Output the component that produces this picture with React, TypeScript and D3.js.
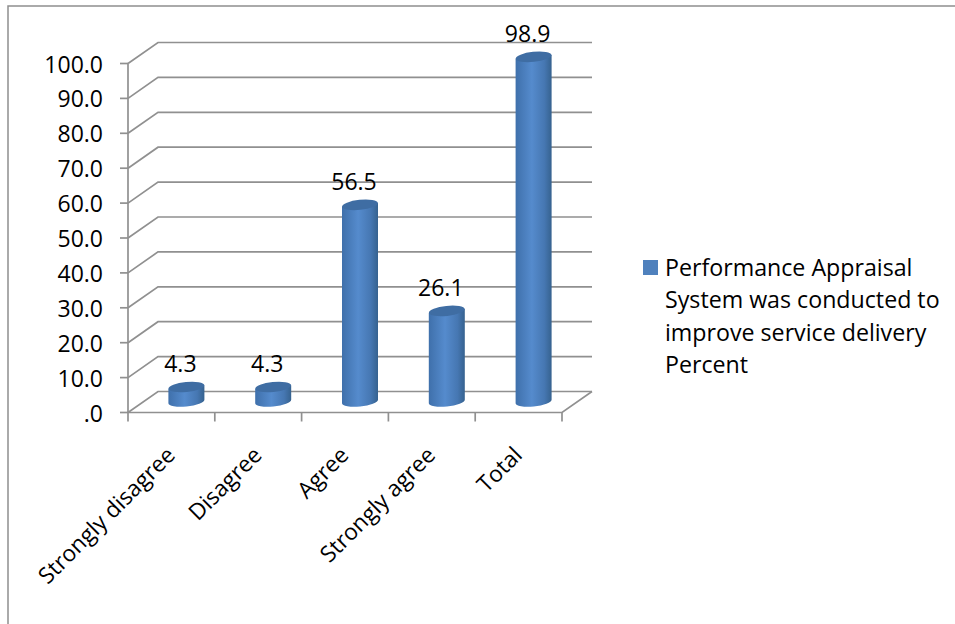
import React from 'react';
import * as d3 from 'd3';

const categories = ['Strongly disagree', 'Disagree', 'Agree', 'Strongly agree', 'Total'];
const values = [4.3, 4.3, 56.5, 26.1, 98.9];
const ticks = [0, 10, 20, 30, 40, 50, 60, 70, 80, 90, 100];
const legendLines = ['Performance Appraisal', 'System was conducted to', 'improve service delivery', 'Percent'];

const WIDTH = 955;
const HEIGHT = 624;
const FONT = '"Open Sans", Lato, sans-serif';
const GRID = '#909090';

// front plane of the 3D box, the back wall is offset by depth
const depthX = 30;
const depthY = -21;

const x = d3.scaleBand<string>().domain(categories).range([128, 562]);
const y = d3.scaleLinear().domain([0, 100]).range([412.5, 63.5]);

const tickLabel = (t: number) => (t === 0 ? '.0' : t.toFixed(1));

const App: React.FC = () => {
  const barWidth = 36;
  const ry = 5;

  return (
    <svg width={WIDTH} height={HEIGHT} style={{ position: 'absolute', left: 0, top: 0 }} fontFamily={FONT}>
      <defs>
        <linearGradient id="cyl" x1="0" x2="1" y1="0" y2="0">
          <stop offset="0" stopColor="#3f70ab" />
          <stop offset="0.45" stopColor="#558bcd" />
          <stop offset="0.8" stopColor="#4677b2" />
          <stop offset="1" stopColor="#36628f" />
        </linearGradient>
      </defs>

      <rect width={WIDTH} height={HEIGHT} fill="#fff" />
      <path d={`M8,${HEIGHT}V6H${WIDTH}`} fill="none" stroke="#8f8f8f" strokeWidth={1.5} />

      {/* back wall and side wall gridlines */}
      {ticks.map(t => (
        <path
          key={t}
          d={`M${x.range()[0]},${y(t)}l${depthX},${depthY}H${x.range()[1] + depthX}`}
          fill="none"
          stroke={GRID}
          strokeWidth={1.7}
        />
      ))}

      {/* floor */}
      <path
        d={`M${x.range()[0]},${y(0)}H${x.range()[1]}l${depthX},${depthY}`}
        fill="none"
        stroke={GRID}
        strokeWidth={1.7}
      />

      {/* value axis */}
      <line x1={x.range()[0]} x2={x.range()[0]} y1={y(100)} y2={y(0)} stroke={GRID} strokeWidth={1.7} />
      {ticks.map(t => (
        <g key={t}>
          <line x1={x.range()[0] - 8} x2={x.range()[0]} y1={y(t)} y2={y(t)} stroke={GRID} strokeWidth={1.7} />
          <text x={103} y={y(t) + 1} dy="0.35em" textAnchor="end" fontSize={23} fill="#000">
            {tickLabel(t)}
          </text>
        </g>
      ))}

      {/* category axis */}
      {categories.map((c, i) => (
        <line
          key={c}
          x1={x.range()[0] + i * x.bandwidth()}
          x2={x.range()[0] + i * x.bandwidth()}
          y1={y(0)}
          y2={y(0) + 9}
          stroke={GRID}
          strokeWidth={1.7}
        />
      ))}
      <line x1={x.range()[1]} x2={x.range()[1]} y1={y(0)} y2={y(0) + 9} stroke={GRID} strokeWidth={1.7} />

      {/* cylinders */}
      {categories.map((c, i) => {
        const cx = (x(c) as number) + x.bandwidth() / 2 + depthX / 2;
        const base = y(0) + depthY / 2 - 0.5;
        const top = y(values[i]) + depthY / 2;
        const rx = barWidth / 2;
        const tilt = 1.8;
        return (
          <g key={c}>
            <path
              d={`M${cx - rx},${top + tilt}L${cx + rx},${top - tilt}V${base - tilt}` +
                `A${rx},${ry},-6,0,1,${cx - rx},${base + tilt}Z`}
              fill="url(#cyl)"
            />
            <ellipse cx={cx} cy={top} rx={rx} ry={ry} transform={`rotate(-6 ${cx} ${top})`} fill="#3f6da3" />
            <text x={cx - 6} y={top - 15} textAnchor="middle" fontSize={23} fill="#000">
              {values[i]}
            </text>
          </g>
        );
      })}

      {/* category labels */}
      {categories.map(c => {
        const lx = (x(c) as number) + x.bandwidth() / 2 + 5;
        const ly = y(0) + 44;
        return (
          <text key={c} transform={`translate(${lx},${ly}) rotate(-45)`} textAnchor="end" fontSize={22.6} fill="#000">
            {c}
          </text>
        );
      })}

      {/* legend */}
      <rect x={643} y={260} width={15} height={15} fill="#4f81bd" />
      {legendLines.map((l, i) => (
        <text key={l} x={665} y={276 + i * 32.4} fontSize={23.2} fill="#000">
          {l}
        </text>
      ))}
    </svg>
  );
};

export default App;
